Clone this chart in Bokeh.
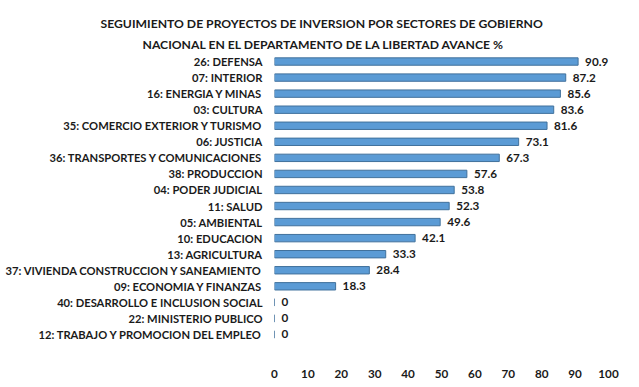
from bokeh.plotting import figure
from bokeh.models import ColumnDataSource, Title, FixedTicker, FactorRange, Range1d
from bokeh.core.properties import value
from bokeh.embed import file_html
from bokeh.resources import INLINE

categories = [
    "26: DEFENSA",
    "07: INTERIOR",
    "16: ENERGIA Y MINAS",
    "03: CULTURA",
    "35: COMERCIO EXTERIOR Y TURISMO",
    "06: JUSTICIA",
    "36: TRANSPORTES Y COMUNICACIONES",
    "38: PRODUCCION",
    "04: PODER JUDICIAL",
    "11: SALUD",
    "05: AMBIENTAL",
    "10: EDUCACION",
    "13: AGRICULTURA",
    "37: VIVIENDA CONSTRUCCION Y SANEAMIENTO",
    "09: ECONOMIA Y FINANZAS",
    "40: DESARROLLO E INCLUSION SOCIAL",
    "22: MINISTERIO PUBLICO",
    "12: TRABAJO Y PROMOCION DEL EMPLEO",
]
avance = [90.9, 87.2, 85.6, 83.6, 81.6, 73.1, 67.3, 57.6, 53.8, 52.3,
          49.6, 42.1, 33.3, 28.4, 18.3, 0, 0, 0]
labels = ["90.9", "87.2", "85.6", "83.6", "81.6", "73.1", "67.3", "57.6", "53.8", "52.3",
          "49.6", "42.1", "33.3", "28.4", "18.3", "0", "0", "0"]
x_ticks = [0, 10, 20, 30, 40, 50, 60, 70, 80, 90, 100]
title_lines = [
    "SEGUIMIENTO DE PROYECTOS DE INVERSION POR SECTORES DE GOBIERNO",
    "NACIONAL EN EL DEPARTAMENTO DE LA LIBERTAD AVANCE %",
]

FONT = "Lato"
src = ColumnDataSource(dict(cat=categories, val=avance, lab=labels))

p = figure(
    width=639, height=387,
    y_range=FactorRange(factors=list(reversed(categories)), range_padding=0),
    x_range=Range1d(0, 100),
    output_backend="svg", toolbar_location=None,
    min_border_left=274, min_border_right=31,
    min_border_top=53, min_border_bottom=45,
)
p.background_fill_color = "white"
p.border_fill_color = "white"
p.outline_line_color = None
p.grid.grid_line_color = None

p.hbar(y="cat", left=0, right="val", height=0.46, source=src,
       fill_color="#5B9BD5", line_color="#41719C", line_width=1)

p.text(x="val", y="cat", text="lab", source=src, x_offset=7,
       text_font=value(FONT), text_font_size="11.7px", text_font_style="bold",
       text_color="#1a1a1a", text_baseline="middle", text_align="left")

for ax in (p.xaxis[0], p.yaxis[0]):
    ax.axis_line_color = None
    ax.major_tick_line_color = None
    ax.minor_tick_line_color = None
    ax.major_tick_out = 0
    ax.major_tick_in = 0
    ax.major_label_text_font = FONT
    ax.major_label_text_font_style = "bold"
    ax.major_label_text_color = "#1a1a1a"

p.xaxis.major_label_text_font_size = "11.7px"
p.yaxis.major_label_text_font_size = "11.2px"
p.xaxis.ticker = FixedTicker(ticks=x_ticks)
p.xaxis.major_label_standoff = 27
p.yaxis.major_label_standoff = 12

# second line closest to the plot, first line above it
p.add_layout(Title(text=title_lines[1], align="left", offset=-132, standoff=4,
                   text_font=FONT, text_font_size="12.2px", text_font_style="bold",
                   text_color="#1a1a1a"), "above")
p.add_layout(Title(text=title_lines[0], align="left", offset=-174, standoff=3,
                   text_font=FONT, text_font_size="12.2px", text_font_style="bold",
                   text_color="#1a1a1a"), "above")

open("out.html", "w").write(file_html(p, INLINE))
